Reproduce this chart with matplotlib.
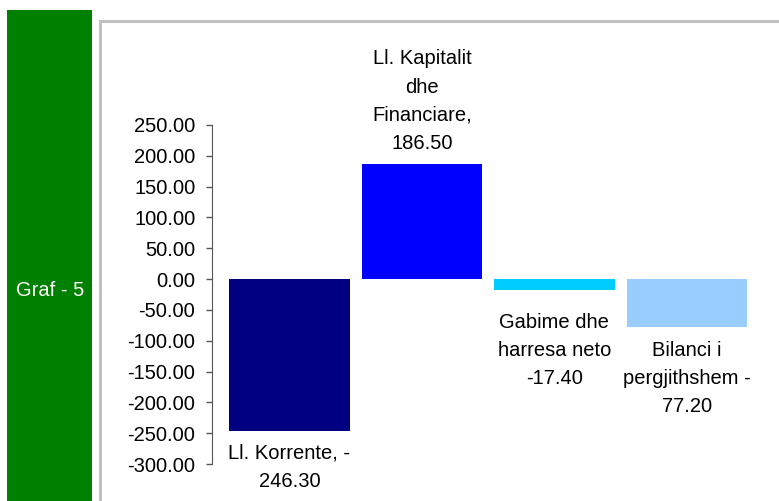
import matplotlib.pyplot as plt
from matplotlib.patches import Rectangle
from matplotlib.lines import Line2D

plt.rcParams['font.family'] = ['Liberation Sans', 'DejaVu Sans']

labels = ['Ll. Korrente, -\n246.30', 'Ll. Kapitalit\ndhe\nFinanciare,\n186.50',
          'Gabime dhe\nharresa neto\n-17.40', 'Bilanci i\npergjithshem -\n77.20']
values = [-246.30, 186.50, -17.40, -77.20]
colors = ['#000080', '#0000FF', '#00CCFF', '#99CCFF']
yticks = [250, 200, 150, 100, 50, 0, -50, -100, -150, -200, -250, -300]

fig = plt.figure(figsize=(7.79, 5.01), dpi=100)

# green side panel + grey frame
fig.patches.append(Rectangle((7 / 779, 0), 85 / 779, 1 - 10 / 501, transform=fig.transFigure,
                             facecolor='#008000', edgecolor='none'))
fig.text(50 / 779, 1 - 291 / 501, 'Graf - 5', color='white', fontsize=14.5,
         ha='center', va='center')
fig.add_artist(Line2D([100 / 779, 1], [1 - 21 / 501] * 2, color='#C0C0C0', lw=2.2))
fig.add_artist(Line2D([100 / 779] * 2, [0, 1 - 21 / 501], color='#C0C0C0', lw=2.2))

ax = fig.add_axes([212 / 779, 1 - 464 / 501, 0.6945, (464 - 125) / 501])
x = range(len(values))
ax.bar(x, values, width=0.91, color=colors)

ax.set_ylim(-300, 250)
ax.set_xlim(-0.585, 3.5)
ax.set_yticks(yticks)
ax.set_yticklabels(['%.2f' % v for v in yticks])
ax.tick_params(axis='y', direction='out', length=4, width=1, color='#555555',
               pad=8, labelsize=14.5)
ax.set_xticks([])
for s in ['top', 'right', 'bottom']:
    ax.spines[s].set_visible(False)
ax.spines['left'].set_color('#555555')

offsets = [-13, 11, -23, -14]
for i, (lab, v) in enumerate(zip(labels, values)):
    ax.annotate(lab, xy=(i, v), xytext=(0, offsets[i]), textcoords='offset pixels',
                ha='center', va='bottom' if v > 0 else 'top', fontsize=14.5,
                linespacing=1.62, annotation_clip=False)

fig.savefig('out.png', dpi=100)
